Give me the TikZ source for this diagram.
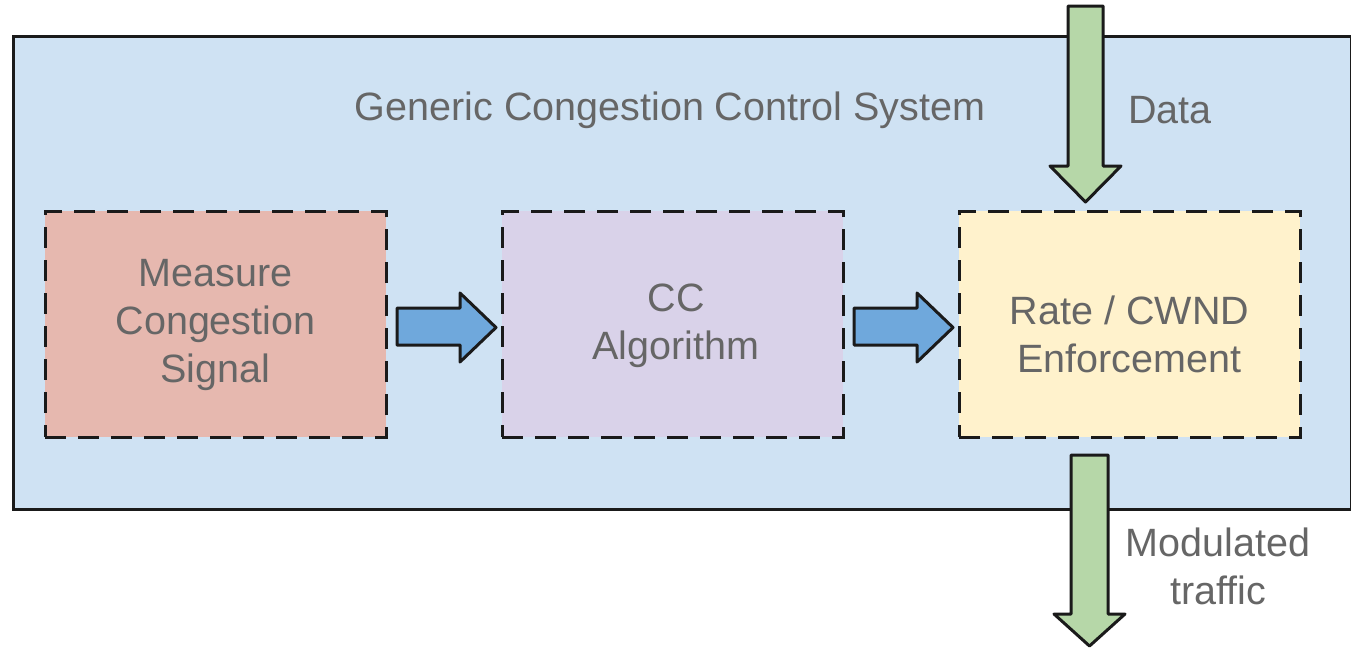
\documentclass[tikz,border=0pt]{standalone}
\usepackage{fontspec}
\setmainfont{Liberation Sans}
\definecolor{sysblue}{HTML}{CFE2F3}
\definecolor{boxred}{HTML}{E6B8AF}
\definecolor{boxpurple}{HTML}{D9D2E9}
\definecolor{boxyellow}{HTML}{FFF2CC}
\definecolor{flowgreen}{HTML}{B6D7A8}
\definecolor{stepblue}{HTML}{6FA8DC}
\definecolor{labelgray}{HTML}{666666}
\definecolor{edge}{HTML}{1A1A1A}
\begin{document}
\begin{tikzpicture}[x=1pt,y=-1pt,
  stagebox/.style={draw=edge,line width=3pt,dash pattern=on 21pt off 12pt,
    minimum width=341pt,minimum height=226pt,inner sep=0pt},
  lbl/.style={text=labelgray,font=\fontsize{39.5}{48}\selectfont,align=center,inner sep=0pt},
  blockarrow/.style={draw=edge,line width=3pt,line join=round}]
\useasboundingbox (0,0) rectangle (1351,648);
% enclosing system
\node[draw=edge,line width=2.8pt,fill=sysblue,minimum width=1338pt,minimum height=473pt,
  inner sep=0pt,anchor=north west] (sys) at (12,35) {};
\node[lbl] (title) at (670,110) {Generic Congestion Control System};
% stages
\node[stagebox,fill=boxred] (measure) at (215.5,324) {};
\node[stagebox,fill=boxpurple] (algo) at (672.5,324) {};
\node[stagebox,fill=boxyellow] (enforce) at (1129.5,324) {};
\node[lbl] (measuret) at (215.5,325) {Measure\\Congestion\\Signal};
\node[lbl] (algot) at (676,326) {CC\\Algorithm};
\node[lbl] (enforcet) at (1129.5,334) {Rate / CWND\\Enforcement};
% step arrows between stages
\draw[blockarrow,fill=stepblue] (397,308) -- (460,308) -- (460,293) -- (496,327.5)
  -- (460,362) -- (460,345) -- (397,345) -- cycle;
\draw[blockarrow,fill=stepblue] (854,308) -- (917,308) -- (917,293) -- (953,327.5)
  -- (917,362) -- (917,345) -- (854,345) -- cycle;
% data in
\draw[blockarrow,fill=flowgreen] (1068,6) -- (1103,6) -- (1103,166) -- (1121,166)
  -- (1085.5,202) -- (1050,166) -- (1068,166) -- cycle;
\node[lbl] (datat) at (1170,110) {Data};
% traffic out
\draw[blockarrow,fill=flowgreen] (1071,455) -- (1108,455) -- (1108,614) -- (1125,614)
  -- (1089.5,646) -- (1054,614) -- (1071,614) -- cycle;
\node[lbl] (outt) at (1218,566) {Modulated\\traffic};
\end{tikzpicture}
\end{document}
